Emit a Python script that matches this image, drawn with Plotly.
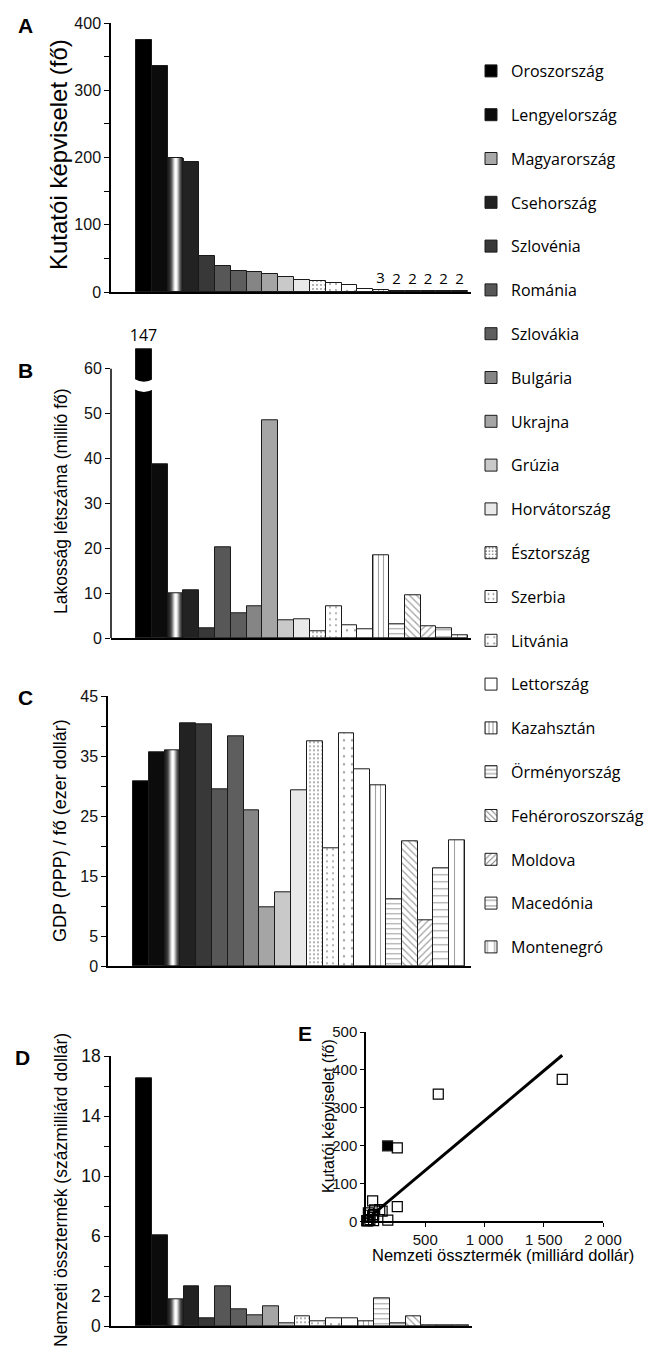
import plotly.graph_objects as go
import numpy as np

# ---------------- data ----------------
countries = ["Oroszország", "Lengyelország", "Magyarország", "Csehország", "Szlovénia",
             "Románia", "Szlovákia", "Bulgária", "Ukrajna", "Grúzia", "Horvátország",
             "Észtország", "Szerbia", "Litvánia", "Lettország", "Kazahsztán",
             "Örményország", "Fehéroroszország", "Moldova", "Macedónia", "Montenegró"]
researchers = [375, 336, 199, 194, 54, 39, 31, 30, 27, 22, 18, 16, 14, 10, 4.5,
               3, 2, 2, 2, 2, 2]                       # A: fő
population_mio = [147, 38.6, 9.9, 10.7, 2.1, 20.2, 5.5, 7.0, 48.6, 3.9, 4.1,
                  1.5, 7.0, 2.9, 2.0, 18.5, 3.0, 9.6, 2.6, 2.1, 0.7]   # B: millió fő
gdp_ppp_per_capita = [30.8, 35.6, 36.0, 40.5, 40.3, 29.5, 38.4, 26.0, 9.8, 12.4, 29.3,
                      37.5, 19.7, 38.8, 32.9, 30.2, 11.1, 20.8, 7.6, 16.3, 21.0]  # C: ezer dollár
gni_100bn = [16.56, 6.1, 1.82, 2.64, 0.56, 2.64, 1.16, 0.73, 1.36, 0.2, 0.64,
             0.33, 0.56, 0.56, 0.33, 1.84, 0.2, 0.64, 0.1, 0.1, 0.07]   # D: százmilliárd dollár
highlight = "Magyarország"
fit_slope, fit_intercept = 0.263, 3.0
small_label_max = 3                             # A: values printed above the bars
pop_axis_top = 60                               # B: broken axis
pop_bar_cap = 64.4

# ---------------- styles ----------------
W, H = 655, 1353
FONT = "Liberation Sans, Arial, sans-serif"
LEGFONT = "Open Sans, sans-serif"

def fx(p):
    return p / W

def fy(p):
    return 1 - p / H

fills = ["#000000", "#0c0c0c", "#ffffff", "#222222", "#383838", "#575757", "#5e5e5e",
         "#858585", "#a5a5a5", "#c9c9c9", "#e9e9e9"] + ["#ffffff"] * 10
pshape = [""] * 11 + [".", ".", ".", "", "|", "-", "\\", "/", "-", "|"]
psize = [8] * 11 + [4, 6, 8, 8, 5, 5, 5, 5, 7, 9]
psolid = [0.3] * 11 + [0.22, 0.1, 0.07, 0.3, 0.22, 0.22, 0.25, 0.25, 0.16, 0.12]
legend_fill = list(fills)
legend_fill[2] = "#a8a8a8"

# pattern order actually drawn in panel D (patterns slip by one there)
d_style = list(range(10)) + [11, 12, 13, 14, 15, 16, 16, 17, 18, 19, 20]

NSL = 16
grad = []
for k in range(NSL):
    t = (k + 0.5) / NSL
    b = np.exp(-((t - 0.55) / 0.24) ** 2)
    v = int(30 + 225 * b)
    grad.append(f"rgb({v},{v},{v})")

OUTLINE = "#1a1a1a"

fig = go.Figure()

# legend entries
for i, c in enumerate(countries):
    fig.add_trace(go.Bar(
        x=[None], y=[None], name=c, xaxis="x", yaxis="y", legendgroup=c,
        marker=dict(color=legend_fill[i], line=dict(color=OUTLINE, width=1),
                    pattern=dict(shape=pshape[i], size=psize[i] if pshape[i] else 8,
                                 solidity=psolid[i], fgcolor="black",
                                 bgcolor="white" if pshape[i] else None,
                                 fillmode="overlay")),
        showlegend=True, hoverinfo="skip"))


def add_panel(xa, ya, values, style_idx, text=None, textfont_size=14, clip=True):
    hv = values[countries.index(highlight)]
    for k in range(NSL):
        fig.add_trace(go.Bar(x=[highlight], y=[hv], width=1 / NSL, offset=-0.5 + k / NSL,
                             marker=dict(color=grad[k], line=dict(width=0)),
                             xaxis=xa, yaxis=ya, showlegend=False, hoverinfo="skip"))
    cols, shp, sz, so, bg = [], [], [], [], []
    for j, c in enumerate(countries):
        s = style_idx[j]
        cols.append("rgba(0,0,0,0)" if c == highlight else fills[s])
        shp.append(pshape[s])
        sz.append(psize[s])
        so.append(psolid[s])
        bg.append("white")
    fig.add_trace(go.Bar(
        x=countries, y=values, xaxis=xa, yaxis=ya, showlegend=False, hoverinfo="skip",
        marker=dict(color=cols, line=dict(color=OUTLINE, width=1),
                    pattern=dict(shape=shp, size=sz, solidity=so, fgcolor="black",
                                 bgcolor=bg, fillmode="overlay")),
        text=text, textposition="outside", cliponaxis=clip, constraintext="none",
        textfont=dict(family=LEGFONT, size=textfont_size, color="black")))


base = list(range(21))
a_text = [f"{v:g}" if v <= small_label_max else "" for v in researchers]
add_panel("x", "y", researchers, base, text=a_text, textfont_size=15, clip=False)
pop_disp = [min(v, pop_bar_cap) for v in population_mio]
b_text = [f"{v:g}" if v > pop_axis_top else "" for v in population_mio]
add_panel("x2", "y2", pop_disp, base, text=b_text, textfont_size=16, clip=False)
add_panel("x3", "y3", gdp_ppp_per_capita, base)
add_panel("x4", "y4", gni_100bn, d_style)

# panel E
gni_bn = [v * 100 for v in gni_100bn]
xl = np.array([min(gni_bn), max(gni_bn)])
fig.add_trace(go.Scatter(x=xl, y=fit_intercept + fit_slope * xl, mode="lines",
                         line=dict(color="black", width=3), xaxis="x5", yaxis="y5",
                         showlegend=False, hoverinfo="skip"))
fig.add_trace(go.Scatter(
    x=gni_bn, y=researchers, mode="markers", xaxis="x5", yaxis="y5", showlegend=False,
    hoverinfo="skip", cliponaxis=False,
    marker=dict(symbol=["square" if c == highlight else "square-open" for c in countries],
                size=10, color="black", line=dict(color="#222", width=1.2))))

# ---------------- axes ----------------
def tf(s):
    return dict(family=FONT, size=s, color="#111")


def xcat(dom, rng):
    return dict(domain=dom, range=rng, type="category", categoryorder="array",
                categoryarray=countries, showticklabels=False, ticks="", showgrid=False,
                zeroline=False, showline=True, linecolor="black", linewidth=2,
                fixedrange=True)


def ynum(dom, rng, tv, minor_tv=None, size=16, showline=True):
    d = dict(domain=dom, range=rng, tickvals=tv, ticks="outside", ticklen=5, tickwidth=1,
             tickcolor="black", showgrid=False, zeroline=False, showline=showline,
             linecolor="black", linewidth=1.5, tickfont=tf(size), fixedrange=True)
    if minor_tv:
        d["minor"] = dict(tickvals=minor_tv, ticks="outside", ticklen=5, tickcolor="black",
                          showgrid=False)
    return d


ax_rng = [-2.08, 20.69]
pxu = 4.488  # px per million in B
b_top = 630 - 65 * pxu

fig.update_layout(
    width=W, height=H, margin=dict(l=0, r=0, t=0, b=0, autoexpand=False),
    paper_bgcolor="white", plot_bgcolor="white", barmode="overlay", bargap=0,
    hovermode=False,
    xaxis=xcat([fx(103), fx(463)], ax_rng),
    yaxis=ynum([fy(284), fy(15)], [0, 400], [0, 100, 200, 300, 400], [50, 150, 250, 350]),
    xaxis2=xcat([fx(103), fx(463)], ax_rng),
    yaxis2=ynum([fy(630), fy(b_top)], [0, 65], [0, 10, 20, 30, 40, 50, 60], showline=False),
    xaxis3=xcat([fx(100), fx(463)], [-2.08, 20.88]),
    yaxis3=ynum([fy(958.3), fy(688.3)], [0, 45], [0, 5, 15, 25, 35, 45], [10, 20, 30, 40]),
    xaxis4=xcat([fx(103), fx(464)], ax_rng),
    yaxis4=ynum([fy(1318.3), fy(1048.3)], [0, 18],
                [0, 2, 6, 10, 14, 18], [4, 8, 12, 16], size=17.5),
    xaxis5=dict(domain=[fx(358), fx(595)], range=[0, 2000], tickvals=[500, 1000, 1500, 2000],
                ticktext=["500", "1 000", "1 500", "2 000"], ticks="outside", ticklen=4,
                tickcolor="black", showgrid=False, zeroline=False, showline=True,
                linecolor="black", linewidth=1.5, tickfont=tf(15),
                anchor="y5", fixedrange=True),
    yaxis5=dict(domain=[fy(1213.3), fy(1024)], range=[0, 500],
                tickvals=[0, 100, 200, 300, 400, 500], ticks="outside", ticklen=4,
                tickcolor="black", showgrid=False, zeroline=False, showline=True,
                linecolor="black", linewidth=1.5, tickfont=tf(15),
                anchor="x5", fixedrange=True),
    legend=dict(x=fx(463), xanchor="left", y=fy(46), yanchor="top", itemwidth=30,
                font=dict(family=LEGFONT, size=16, color="black"), tracegroupgap=20,
                bgcolor="rgba(0,0,0,0)", itemclick=False, itemdoubleclick=False),
)
for n in ["", "2", "3", "4"]:
    fig.layout["xaxis" + n].anchor = "y" + n
    fig.layout["yaxis" + n].anchor = "x" + n

# broken axis in B
brk_hi, brk_lo = 57.7, 55.4
fig.add_shape(type="line", xref="x2 domain", yref="y2", x0=0, x1=0, y0=0, y1=pop_axis_top,
              line=dict(color="black", width=1.5))
fig.add_shape(type="path", xref="x2", yref="y2",
              path=f"M -0.6,{brk_hi} Q 0,{brk_hi - 1.2} 0.6,{brk_hi} L 0.6,{brk_lo} "
                   f"Q 0,{brk_lo - 1.2} -0.6,{brk_lo} Z",
              fillcolor="white", line=dict(width=0))

# panel letters and axis titles
letters = [("A", 17.5, 17), ("B", 17, 362), ("C", 17.5, 689), ("D", 14.5, 1049), ("E", 297, 1025)]
for t, x, y in letters:
    fig.add_annotation(text=f"<b>{t}</b>", x=fx(x), y=fy(y), xref="paper", yref="paper",
                       showarrow=False, font=dict(family=FONT, size=21, color="black"),
                       xanchor="center", yanchor="middle")
titles = [("Kutatói képviselet (fő)", 50, 147, 24, -90),
          ("Lakosság létszáma (millió fő)", 53, 493, 17.5, -90),
          ("GDP (PPP) / fő (ezer dollár)", 52, 823, 18, -90),
          ("Nemzeti össztermék (százmilliárd dollár)", 53, 1182, 17.5, -90),
          ("Kutatói képviselet (fő)", 320, 1108, 16, -90),
          ("Nemzeti össztermék (milliárd dollár)", 495, 1247, 16.5, 0)]
for t, x, y, s, ang in titles:
    fig.add_annotation(text=t, x=fx(x), y=fy(y), xref="paper", yref="paper", showarrow=False,
                       textangle=ang, font=dict(family=FONT, size=s, color="black"),
                       xanchor="center", yanchor="middle")

fig.write_html("out.html")
